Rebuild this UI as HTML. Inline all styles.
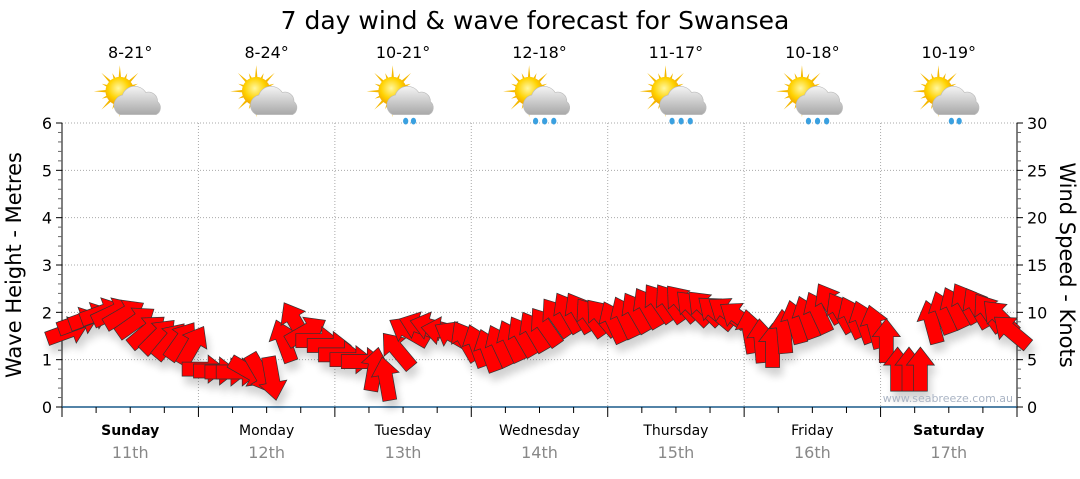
<!DOCTYPE html>
<html><head><meta charset="utf-8">
<style>
html,body{margin:0;padding:0;background:#fff;}
body{width:1080px;height:475px;overflow:hidden;font-family:"DejaVu Sans","Liberation Sans",sans-serif;}
</style></head>
<body>
<svg id="chart" width="1080" height="475" viewBox="0 0 1080 475" xmlns="http://www.w3.org/2000/svg">
<defs>
<filter id="sh" x="-50%" y="-50%" width="200%" height="200%"><feGaussianBlur in="SourceAlpha" stdDeviation="4"/><feOffset dx="3" dy="8"/><feComponentTransfer><feFuncA type="linear" slope="0.18"/></feComponentTransfer><feMerge><feMergeNode/><feMergeNode in="SourceGraphic"/></feMerge></filter>
<radialGradient id="sun" cx="0.45" cy="0.4" r="0.6"><stop offset="0" stop-color="#fff7a0"/><stop offset="0.6" stop-color="#ffd200"/><stop offset="1" stop-color="#f0a000"/></radialGradient>
<linearGradient id="cloud" x1="0" y1="0" x2="0" y2="1"><stop offset="0" stop-color="#f4f4f4"/><stop offset="1" stop-color="#a8a8a8"/></linearGradient>
</defs>
<text x="535" y="29" font-size="25" text-anchor="middle" fill="#000">7 day wind &amp; wave forecast for Swansea</text>
<g id="grid"></g>
<g id="axes"></g>
<g id="days"></g>
<g id="wx"></g>
<g id="arrows" filter="url(#sh)"></g>
<text x="1013" y="402" font-size="11" text-anchor="end" fill="#aab4c4">www.seabreeze.com.au</text>
<text transform="translate(21,265) rotate(-90)" font-size="21" text-anchor="middle" fill="#000">Wave Height - Metres</text>
<text transform="translate(1060,265) rotate(90)" font-size="21" text-anchor="middle" fill="#000">Wind Speed - Knots</text>
</svg>
<script>
const dayNames=["Sunday","Monday","Tuesday","Wednesday","Thursday","Friday","Saturday"];
const dayDates=["11th","12th","13th","14th","15th","16th","17th"];
const boldDays=[true,false,false,false,false,false,true];
const temps=["8-21°","8-24°","10-21°","12-18°","11-17°","10-18°","10-19°"];
const rain=[0,0,1,2,2,2,1];
const leftTicks=[0,1,2,3,4,5,6];
const rightTicks=[0,5,10,15,20,25,30];
const windKnots=[8,9,9.5,10,10,9.8,9,8,7.5,7,7,6.5,
4,3.8,3.7,3.7,3.7,3.5,3,7,9,8,7,6.5,
5.5,5,4.8,4,3,6,8,8.5,8.5,8,7.5,7,
6.5,6,6.5,7,7.5,8,8.5,9.5,10,10,9.5,9.5,
9,9.5,10,10.5,11,11,11,10.5,10.5,10,10,9.5,
8,7,6.5,8,9,9.5,10,11,10,9.5,9,8.5,
7,4,4,4,9,10,10.5,11,10.5,10,9.5,8];
const windDir=[-20,-20,-20,-20,-25,-30,-35,-40,-45,-50,-55,-60,
0,0,0,0,30,60,80,-110,-120,-30,0,0,
0,0,0,-80,-100,-130,-150,-160,-165,-170,-150,-120,
-110,-110,-115,-115,-120,-120,-125,-125,-120,-120,-125,-130,
-115,-115,-120,-120,-125,-125,-130,-135,-135,-140,-145,-145,
-100,-95,-90,-95,-105,-110,-115,-120,-120,-115,-110,-105,
-90,-90,-90,-90,-105,-110,-115,-120,-120,-125,-135,-140];

const X0=62,X1=1017,Y0=407,Y1=123;
const dayW=(X1-X0)/7;
const NS="http://www.w3.org/2000/svg";
function yM(m){return Y0-(m/6)*(Y0-Y1);}
function yK(k){return Y0-(k/30)*(Y0-Y1);}
function xT(t){return X0+t*dayW;}
function mk(tag,attrs,parent,txt){const e=document.createElementNS(NS,tag);for(const k in attrs)e.setAttribute(k,attrs[k]);if(txt!==undefined)e.textContent=txt;parent.appendChild(e);return e;}

const grid=document.getElementById('grid'),axes=document.getElementById('axes'),days=document.getElementById('days'),wx=document.getElementById('wx'),arr=document.getElementById('arrows');
for(let m=1;m<=6;m++){const l=mk('line',{x1:X0,x2:X1,y1:yM(m),y2:yM(m),stroke:'#aaa','stroke-dasharray':'1,2'},grid);

}
for(let d=1;d<7;d++){const l=mk('line',{x1:xT(d),x2:xT(d),y1:Y1,y2:Y0,stroke:'#aaa','stroke-dasharray':'1,2'},grid);

}
mk('line',{x1:X0,x2:X0,y1:Y1,y2:Y0+10,stroke:'#000','stroke-width':1},axes);
mk('line',{x1:X1,x2:X1,y1:Y1,y2:Y0+4,stroke:'#000','stroke-width':1},axes);
mk('line',{x1:X0,x2:X1,y1:Y0,y2:Y0,stroke:'#1a5a8a','stroke-width':1.5},axes);
for(let i=0;i<=30;i++){const m=i/5;const maj=i%5===0;mk('line',{x1:X0-(maj?6:4),x2:X0,y1:yM(m),y2:yM(m),stroke:maj?'#000':'#666'},axes);}
leftTicks.forEach(v=>{const t=mk('text',{x:X0-10,y:yM(v)+6,'font-size':16,'text-anchor':'end',fill:'#000'},axes,String(v));

});
for(let k=0;k<=30;k++){const maj=k%5===0;mk('line',{x1:X1,x2:X1+(maj?6:4),y1:yK(k),y2:yK(k),stroke:maj?'#000':'#666'},axes);}
rightTicks.forEach(v=>{const t=mk('text',{x:X1+10,y:yK(v)+6,'font-size':16,'text-anchor':'start',fill:'#000'},axes,String(v));

});
for(let q=0;q<=28;q++){const dd=q%4===0;mk('line',{x1:xT(q/4),x2:xT(q/4),y1:Y0,y2:Y0+(dd?10:6),stroke:'#000'},axes);}
for(let d=0;d<7;d++){const cx=xT(d+0.5);
const n=mk('text',{x:cx,y:435,'font-size':14,'font-weight':boldDays[d]?'bold':'normal','text-anchor':'middle',fill:'#000'},days,dayNames[d]);


const dt=mk('text',{x:cx,y:458,'font-size':16,'text-anchor':'middle',fill:'#888'},days,dayDates[d]);


const tp=mk('text',{x:cx,y:58,'font-size':16,'text-anchor':'middle',fill:'#000'},wx,temps[d]);


const g=mk('g',{transform:`translate(${cx},99) scale(1.3)`},wx);


const sx=-8,sy=-6;
for(let r=0;r<16;r++){const a=r*Math.PI/8;const L=r%2?15:20;
mk('polygon',{points:`${sx+Math.cos(a-0.12)*9},${sy+Math.sin(a-0.12)*9} ${sx+Math.cos(a)*L},${sy+Math.sin(a)*L} ${sx+Math.cos(a+0.12)*9},${sy+Math.sin(a+0.12)*9}`,fill:'#f5b800'},g);}
mk('circle',{cx:sx,cy:sy,r:11,fill:'url(#sun)'},g);
mk('path',{d:'M-8,12 a8,8 0 0 1 2,-15 a10,10 0 0 1 18,-2 a7,7 0 0 1 9,7 a6,6 0 0 1 -1,10 z',fill:'url(#cloud)',stroke:'#bbb','stroke-width':0.5},g);
if(rain[d]>0){const pts=rain[d]===1?[2,8]:[-3,4,11];pts.forEach(px=>mk('ellipse',{cx:px,cy:17,rx:2,ry:2.6,fill:'#3aa0e0'},g));}
}
const N=windKnots.length;const step=7/N;
for(let i=0;i<N;i++){const cx=xT((i+0.5)*step),cy=yK(windKnots[i]);
const p=mk('polygon',{points:'-22,-7 4,-7 4,-14 22,0 4,14 4,7 -22,7',fill:'#ff0000',stroke:'#333','stroke-width':0.7,transform:`translate(${cx.toFixed(1)},${cy.toFixed(1)}) rotate(${windDir[i]})`},arr);

}
</script>
</body></html>
